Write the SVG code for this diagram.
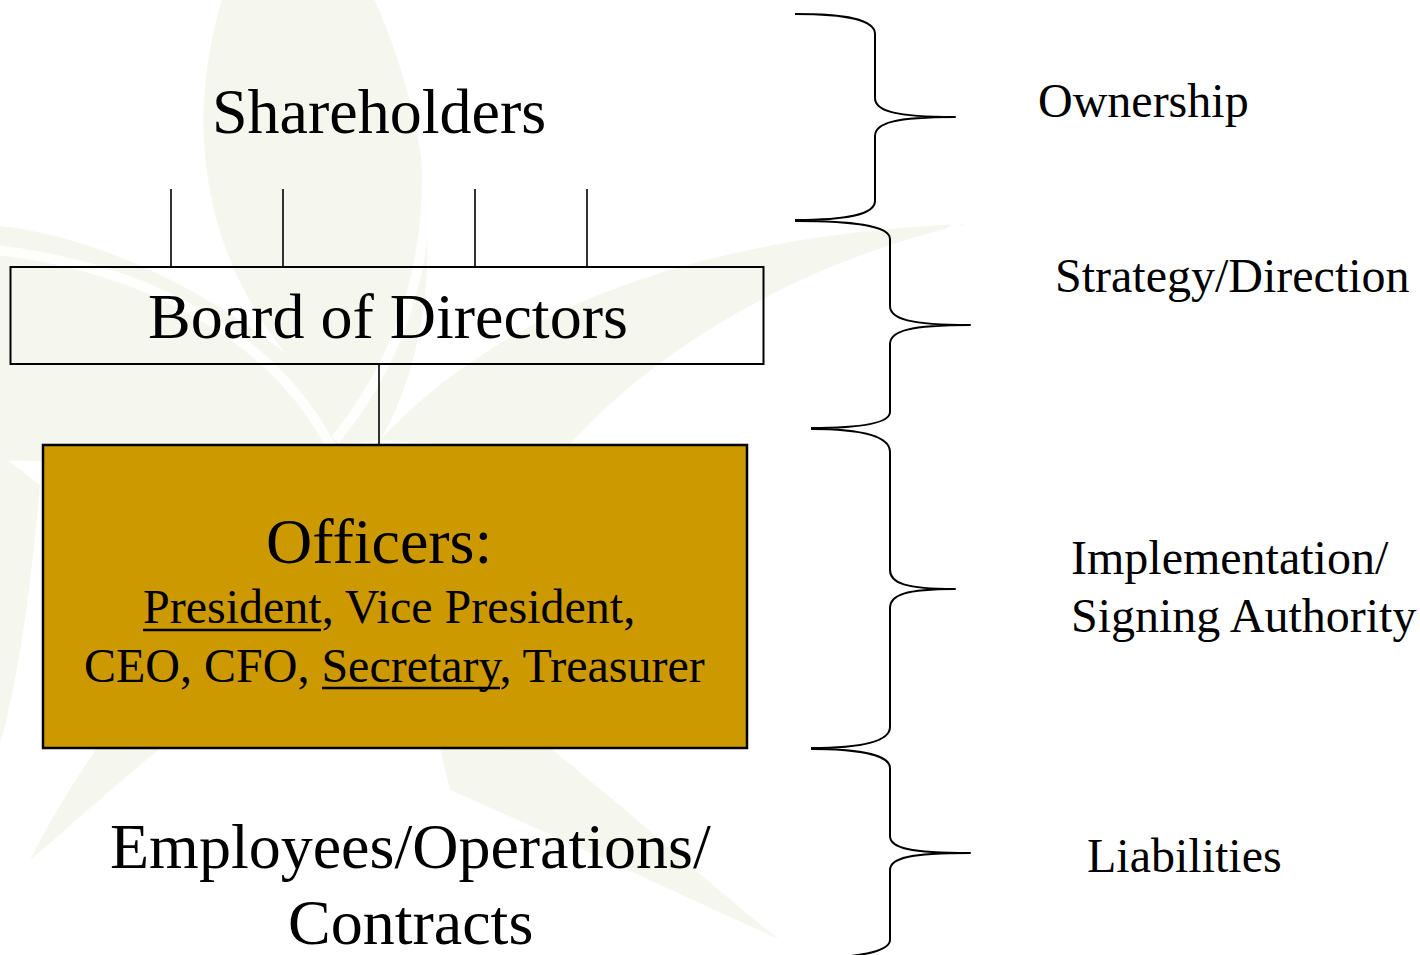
<svg xmlns="http://www.w3.org/2000/svg" width="1420" height="955" viewBox="0 0 1420 955">
  <style>
    .serif { font-family: "Liberation Serif", "Times New Roman", serif; fill: #000; }
    .big { font-size: 64px; }
    .mid { font-size: 48px; }
    .wire { stroke: #000; stroke-width: 1.6; fill: none; }
    .brace { stroke: #000; stroke-width: 2; fill: none; stroke-linejoin: round; }
    .petal { fill: #F3F5EA; }
    .gap { stroke: #FFFFFF; stroke-width: 10; fill: none; opacity: 0.85; }
  </style>

  <rect x="0" y="0" width="1420" height="955" fill="#FFFFFF"/>

  <!-- faint star-shaped watermark behind the chart -->
  <g id="watermark" opacity="0.8">
    <path class="petal" d="M380 440 C220 330 170 160 225 -10 L370 -10 C445 150 445 330 380 440 Z"/>
    <path class="petal" d="M380 440 C260 310 110 235 -10 225 L-10 460 C120 465 260 455 380 440 Z"/>
    <path class="petal" d="M380 440 C500 310 700 235 965 224 C800 262 650 350 560 455 Z"/>
    <path class="petal" d="M380 440 C250 560 110 700 30 860 C130 775 260 650 440 560 Z"/>
    <path class="petal" d="M-5 450 L40 485 C30 600 15 700 -5 760 Z"/>
    <path class="petal" d="M440 748 L550 748 C640 820 710 885 780 940 C650 880 530 825 450 790 Z"/>
    <path class="gap" d="M-5 250 C140 266 270 332 330 445"/>
    <path class="gap" d="M385 -10 C445 120 450 300 335 440"/>
    <path class="gap" d="M960 224 C860 300 780 380 715 480"/>
  </g>

  <!-- connectors -->
  <g id="connectors">
    <line class="wire" x1="171" y1="189" x2="171" y2="267"/>
    <line class="wire" x1="283" y1="189" x2="283" y2="267"/>
    <line class="wire" x1="475" y1="189" x2="475" y2="267"/>
    <line class="wire" x1="587" y1="189" x2="587" y2="267"/>
    <line class="wire" x1="379" y1="364" x2="379" y2="445"/>
  </g>

  <g id="shareholders">
    <text class="serif big" x="212" y="133">Shareholders</text>
  </g>

  <g id="board">
    <rect x="10.5" y="267" width="753" height="97" fill="none" stroke="#000" stroke-width="2"/>
    <text class="serif big" x="148" y="338">Board of Directors</text>
  </g>

  <g id="officers">
    <rect x="43" y="445" width="704" height="303" fill="#CC9900" stroke="#000" stroke-width="2.5"/>
    <text class="serif big" x="266" y="563">Officers:</text>
    <text class="serif mid" x="143" y="623">President, Vice President,</text>
    <line x1="143" y1="630" x2="321" y2="630" stroke="#000" stroke-width="2.5"/>
    <text class="serif mid" x="84" y="682">CEO, CFO, Secretary, Treasurer</text>
    <line x1="322" y1="688" x2="500" y2="688" stroke="#000" stroke-width="2.5"/>
  </g>

  <g id="employees">
    <text class="serif big" x="110" y="868">Employees/Operations/</text>
    <text class="serif big" x="288" y="944">Contracts</text>
  </g>

  <!-- braces grouping the tiers -->
  <g id="braces">
    <path class="brace" d="M795 14 C845 14 875 19 875 34 L875 98 C875 111 895 117 955 117 C895 117 875 123 875 136 L875 201 C875 215 845 220 795 220"/>
    <path class="brace" d="M795 221 C850 221 890 225 890 239 L890 306 C890 319 910 325 970 325 C910 325 890 331 890 344 L890 412 C890 424 855 428 811 428"/>
    <path class="brace" d="M811 429 C855 429 890 434 890 452 L890 570 C890 583 905 589 955 589 C905 589 890 595 890 608 L890 727 C890 743 855 748 811 748"/>
    <path class="brace" d="M811 749 C855 749 890 754 890 768 L890 836 C890 848 910 853 970 853 C910 853 890 858 890 870 L890 940 C890 952 855 958 811 958"/>
  </g>

  <g id="ownership">
    <text class="serif mid" x="1038" y="117">Ownership</text>
  </g>
  <g id="strategy">
    <text class="serif mid" x="1055" y="292">Strategy/Direction</text>
  </g>
  <g id="implementation">
    <text class="serif mid" x="1071" y="574">Implementation/</text>
    <text class="serif mid" x="1071" y="632">Signing Authority</text>
  </g>
  <g id="liabilities">
    <text class="serif mid" x="1087" y="872">Liabilities</text>
  </g>
</svg>
